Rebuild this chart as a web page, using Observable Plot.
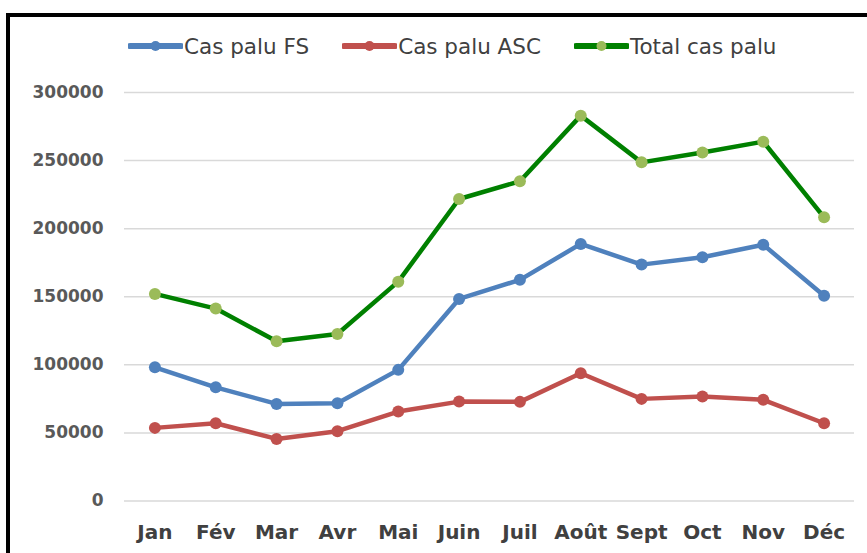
<!DOCTYPE html>
<html><head><meta charset="utf-8">
<script src="https://cdn.jsdelivr.net/npm/d3@7"></script>
<script src="https://cdn.jsdelivr.net/npm/@observablehq/plot@0.6"></script>
<style>
html,body{margin:0;padding:0;background:#fff;overflow:hidden;font-family:"DejaVu Sans",sans-serif;}
#frame{position:absolute;left:6px;top:13px;width:900px;height:600px;border:4px solid #000;}
#legend{height:58px;display:flex;align-items:center;padding-left:118px;font-size:21.5px;color:#404040;}
.item{display:flex;align-items:center;margin-right:33px;white-space:nowrap;}
.item svg{display:block;margin-right:1px;}
#chart svg{display:block;}
</style></head><body>
<div id="frame"><div id="legend"></div><div id="chart"></div></div>
<script>
const months = ["Jan","Fév","Mar","Avr","Mai","Juin","Juil","Août","Sept","Oct","Nov","Déc"];
const casFS = [98200,83500,71300,71800,96300,148400,162400,188800,173600,179000,188200,150800];
const casASC = [53700,57100,45600,51300,65700,73000,72800,93800,75000,76700,74300,57100];
const totalCas = [152100,141300,117300,122700,161100,221800,234800,283000,248700,256000,263900,208300];
const yTicks = [0,50000,100000,150000,200000,250000,300000];
const seriesNames = ["Cas palu FS","Cas palu ASC","Total cas palu"];
const lineColors = ["#4f81bd","#c0504d","#008000"];
const dotColors = ["#4f81bd","#c0504d","#9bbb59"];
const seriesValues = [casFS, casASC, totalCas];

// legend
const legend = document.getElementById("legend");
seriesNames.forEach((name, k) => {
  const item = document.createElement("div");
  item.className = "item";
  item.innerHTML = `<svg width="55" height="14"><line x1="2" y1="7" x2="53" y2="7" stroke="${lineColors[k]}" stroke-width="6" stroke-linecap="round"/><circle cx="27.5" cy="7" r="5" fill="${dotColors[k]}"/></svg><span>${name}</span>`;
  legend.appendChild(item);
});

const data = seriesValues.flatMap((vals, k) => months.map((m, i) => ({month: m, value: vals[i], series: seriesNames[k], k})));

const marks = [
  Plot.gridY(yTicks, {stroke: "#d9d9d9", strokeOpacity: 1, strokeWidth: 1.5}),
  Plot.axisY(yTicks, {tickSize: 0, tickPadding: 21, tickFormat: d3.format("d"), fontSize: 17, fontWeight: "bold", fill: "#595959"}),
  Plot.axisX({tickSize: 0, tickPadding: 24, fontSize: 20, fontWeight: "bold", fill: "#404040"})
];
seriesNames.forEach((name, k) => {
  const d = data.filter(r => r.k === k);
  marks.push(Plot.line(d, {x: "month", y: "value", stroke: lineColors[k], strokeWidth: 4.5, strokeLinejoin: "round"}));
  marks.push(Plot.dot(d, {x: "month", y: "value", r: 6, fill: dotColors[k], stroke: "none"}));
});

const chart = Plot.plot({
  width: 857, height: 478,
  marginLeft: 114, marginRight: 13, marginTop: 17, marginBottom: 52.5,
  x: {type: "point", domain: months, padding: 0.5, round: false, label: null},
  y: {domain: [0, 300000], label: null},
  style: {fontFamily: "DejaVu Sans", background: "transparent"},
  marks
});
document.getElementById("chart").appendChild(chart);
</script>
</body></html>
